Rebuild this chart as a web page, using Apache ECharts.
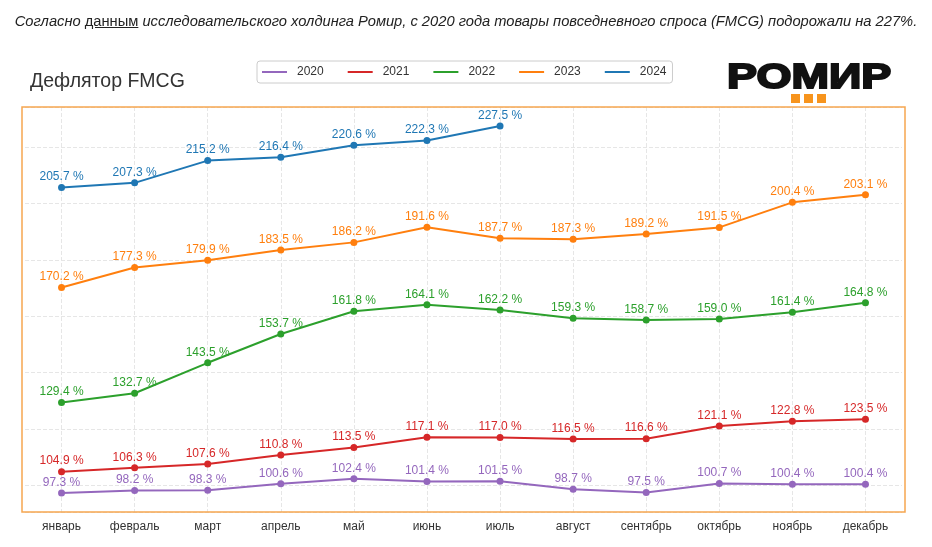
<!DOCTYPE html>
<html>
<head>
<meta charset="utf-8">
<script src="https://cdn.jsdelivr.net/npm/echarts@6/dist/echarts.min.js"></script>
<style>
html, body { margin: 0; padding: 0; background: #fff; }
#box1 { position: absolute; left: 0; top: 0; width: 932px; height: 547px; }
#lead { position: absolute; left: 0; top: 13px; width: 932px; text-align: center;
        font: italic 14.7px "Liberation Sans", Arial, sans-serif; color: #222; z-index: 2; }
#lead u { font-style: normal; }
</style>
</head>
<body>
<div id="box1"></div>
<div id="lead">Согласно <u>данным</u> исследовательского холдинга Ромир, с 2020 года товары повседневного спроса (FMCG) подорожали на 227%.</div>
<script>
// подписи и данные
var months = ['январь', 'февраль', 'март', 'апрель', 'май', 'июнь',
              'июль', 'август', 'сентябрь', 'октябрь', 'ноябрь', 'декабрь'];
var years = ['2020', '2021', '2022', '2023', '2024'];
var colors = ['#9467bd', '#d62728', '#2ca02c', '#ff7f0e', '#1f77b4'];

var d2020 = [97.3, 98.2, 98.3, 100.6, 102.4, 101.4, 101.5, 98.7, 97.5, 100.7, 100.4, 100.4];
var d2021 = [104.9, 106.3, 107.6, 110.8, 113.5, 117.1, 117.0, 116.5, 116.6, 121.1, 122.8, 123.5];
var d2022 = [129.4, 132.7, 143.5, 153.7, 161.8, 164.1, 162.2, 159.3, 158.7, 159.0, 161.4, 164.8];
var d2023 = [170.2, 177.3, 179.9, 183.5, 186.2, 191.6, 187.7, 187.3, 189.2, 191.5, 200.4, 203.1];
var d2024 = [205.7, 207.3, 215.2, 216.4, 220.6, 222.3, 227.5];

var allData = [d2020, d2021, d2022, d2023, d2024];

var myChart1 = echarts.init(document.getElementById('box1'));

var series = years.map(function (y, i) {
    return {
        name: y,
        type: 'line',
        data: allData[i],
        symbol: 'circle',
        symbolSize: 7,
        lineStyle: { width: 2, color: colors[i] },
        itemStyle: { color: colors[i] },
        label: {
            show: true,
            position: 'top',
            distance: 1,
            color: colors[i],
            fontSize: 12,
            formatter: function (p) { return p.value.toFixed(1) + ' %'; }
        },
        emphasis: { disabled: true }
    };
});

var option = {
    backgroundColor: '#fff',
    animation: false,
    textStyle: { fontFamily: '"Liberation Sans", Arial, sans-serif' },
    color: colors,
    title: {
        text: 'Дефлятор FMCG',
        left: 25,
        top: 67,
        textStyle: { fontSize: 19.5, fontWeight: 'normal', color: '#333' }
    },
    legend: {
        data: years,
        left: 257,
        top: 61,
        icon: 'rect',
        itemWidth: 25,
        itemHeight: 2,
        itemGap: 24,
        padding: [5, 6, 5, 5],
        borderColor: '#ccc',
        borderWidth: 1,
        borderRadius: 3,
        backgroundColor: '#fff',
        textStyle: { color: '#333', fontSize: 12, padding: [0, 0, 0, 5] }
    },
    grid: {
        left: 25,
        right: 30,
        top: 107,
        bottom: 35,
        containLabel: false
    },
    xAxis: {
        type: 'category',
        data: months,
        boundaryGap: true,
        axisLine: { show: false },
        axisTick: { show: false, alignWithLabel: true },
        axisLabel: { color: '#333', fontSize: 12, margin: 9 },
        splitLine: {
            show: true,
            alignWithLabel: true,
            lineStyle: { color: '#e6e6e6', type: 'dashed' }
        }
    },
    yAxis: {
        type: 'value',
        min: 90.6,
        max: 234.2,
        splitNumber: 7,
        axisLine: { show: false },
        axisTick: { show: false },
        axisLabel: { show: false },
        splitLine: { lineStyle: { color: '#e6e6e6', type: 'dashed' } }
    },
    graphic: [
        {
            type: 'rect',
            z: 10,
            shape: { x: 22, y: 107, width: 883, height: 405 },
            style: { fill: 'none', stroke: '#f6a650', lineWidth: 1.5 }
        },
        {
            type: 'text',
            z: 10,
            x: 727,
            y: 61,
            scaleX: 1.25,
            scaleY: 0.95,
            style: {
                text: 'РОМИР',
                font: 'bold 36px "Liberation Sans", Arial, sans-serif',
                verticalAlign: 'top',
                fill: '#111',
                stroke: '#111',
                lineWidth: 2
            }
        },
        { type: 'rect', z: 10, shape: { x: 791, y: 94, width: 9, height: 9 }, style: { fill: '#f7941d' } },
        { type: 'rect', z: 10, shape: { x: 804, y: 94, width: 9, height: 9 }, style: { fill: '#f7941d' } },
        { type: 'rect', z: 10, shape: { x: 817, y: 94, width: 9, height: 9 }, style: { fill: '#f7941d' } }
    ],
    series: series
};

myChart1.setOption(option);
</script>
</body>
</html>
